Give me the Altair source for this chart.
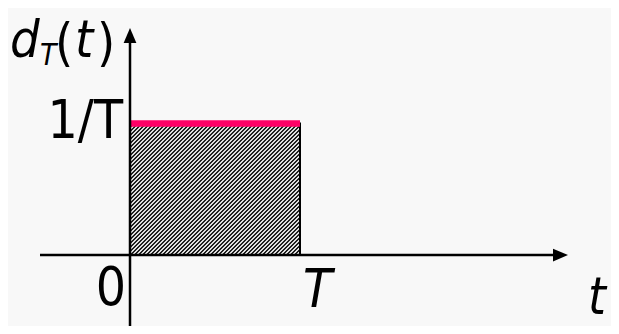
import altair as alt
import pandas as pd

# ---- data (T = 1, 1/T = 1 in normalised units) ----
pulse_start = [0.0]
pulse_end = [1.0]        # T
pulse_height = [1.0]     # 1/T
axis_labels = ["1/T", "0", "T", "t"]
title_parts = ["d", "T", "(", "t", ")"]

# ---- layout ----
W, H = 603, 318
X0PX, Y0PX, UX, UY = 130.0, 255.0, 170.0, 131.5


def X(p):
    return (p - X0PX) / UX


def Y(p):
    return (Y0PX - p) / UY


xs = alt.Scale(domain=[X(8), X(8 + W)], nice=False, zero=False)
ys = alt.Scale(domain=[Y(8 + H), Y(8)], nice=False, zero=False)
FONT = "DejaVu Sans Condensed, DejaVu Sans"
BG = "#f8f8f8"

pulse = pd.DataFrame({"t0": pulse_start, "t1": pulse_end, "y0": [0.0], "h": pulse_height})

# hatch pattern clipped to the pulse rectangle (pixel space -> data)
wpx = (pulse_end[0] - pulse_start[0]) * UX
hpx = pulse_height[0] * UY
rows = []
c = -hpx
while c < wpx:
    u0 = max(0.0, c)
    u1 = min(wpx, hpx + c)
    if u1 > u0:
        rows.append({"x": pulse_start[0] + u0 / UX, "y": (u0 - c) / UY,
                     "x2": pulse_start[0] + u1 / UX, "y2": (u1 - c) / UY})
    c += 4.0
hatch = pd.DataFrame(rows)

base_x = lambda f: alt.X(f, type="quantitative", scale=xs, axis=None)
base_y = lambda f: alt.Y(f, type="quantitative", scale=ys, axis=None)

rect_fill = alt.Chart(pulse).mark_rect(fill="white").encode(
    x=base_x("t0"), x2="t1", y=base_y("y0"), y2="h")

hatch_layer = alt.Chart(hatch).mark_rule(color="black", strokeWidth=1.4).encode(
    x=base_x("x"), x2="x2", y=base_y("y"), y2="y2")

rect_outline = alt.Chart(pulse).mark_rect(fillOpacity=0, stroke="black", strokeWidth=2).encode(
    x=base_x("t0"), x2="t1", y=base_y("y0"), y2="h")

top_line = alt.Chart(pulse).mark_rule(color="#ff0066", strokeWidth=6.5, strokeCap="butt").encode(
    x=base_x("t0"), x2="t1", y=base_y("h"))

haxis = alt.Chart(pd.DataFrame({"a": [X(40)], "b": [X(562)], "y": [0.0]})).mark_rule(
    color="black", strokeWidth=2.5).encode(x=base_x("a"), x2="b", y=base_y("y"))

vaxis = alt.Chart(pd.DataFrame({"x": [0.0], "a": [Y(334)], "b": [Y(36)]})).mark_rule(
    color="black", strokeWidth=2.5).encode(x=base_x("x"), y=base_y("a"), y2="b")

harrow = alt.Chart(pd.DataFrame({"x": [X(560.5)], "y": [0.0]})).mark_point(
    shape="M-1,-0.85L1,0L-1,0.85Z", size=225, filled=True, color="black", opacity=1).encode(
    x=base_x("x"), y=base_y("y"))

varrow = alt.Chart(pd.DataFrame({"x": [0.0], "y": [Y(35.5)]})).mark_point(
    shape="M-0.85,1L0,-1L0.85,1Z", size=225, filled=True, color="black", opacity=1).encode(
    x=base_x("x"), y=base_y("y"))


def label(text, px, py, size, align="left", italic=False):
    return alt.Chart(pd.DataFrame({"x": [X(px)], "y": [Y(py)], "s": [text]})).mark_text(
        font=FONT, fontSize=size, align=align, baseline="alphabetic",
        fontStyle="italic" if italic else "normal", color="black").encode(
        x=base_x("x"), y=base_y("y"), text="s:N")


texts = [
    label(axis_labels[0], 123, 138, 53, align="right"),
    label(axis_labels[1], 126, 305, 53, align="right"),
    label(axis_labels[2], 303, 307, 53, italic=True),
    label(axis_labels[3], 588, 314, 51, italic=True),
    label(title_parts[0], 10, 57, 52, italic=True),
    label(title_parts[1], 40, 65, 30, italic=True),
    label(title_parts[2], 55, 60, 52),
    label(title_parts[3], 75, 57, 52, italic=True),
    label(title_parts[4], 97, 60, 52),
]

chart = alt.layer(rect_fill, hatch_layer, rect_outline, top_line, haxis, vaxis,
                  harrow, varrow, *texts).properties(
    width=W, height=H, padding=0, background=BG,
    autosize=alt.AutoSizeParams(type="none"),
).configure_view(stroke=None)

chart.save("out.html", embed_options={"renderer": "svg", "actions": False})
